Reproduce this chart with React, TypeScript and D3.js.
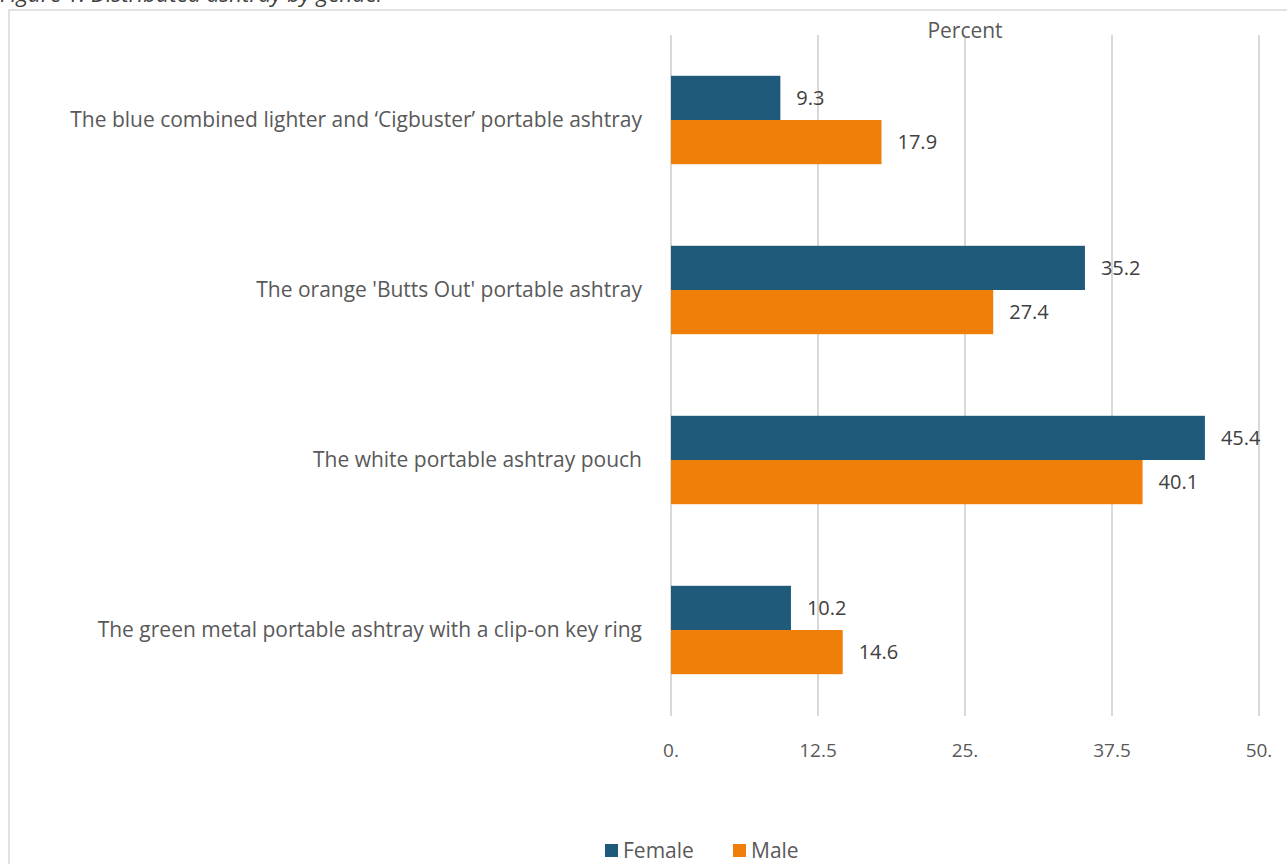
import React from "react";
import * as d3 from "d3";

const categories = [
  "The blue combined lighter and \u2018Cigbuster\u2019 portable ashtray",
  "The orange 'Butts Out' portable ashtray",
  "The white portable ashtray pouch",
  "The green metal portable ashtray with a clip-on key ring",
];
const femaleValues = [9.3, 35.2, 45.4, 10.2];
const maleValues = [17.9, 27.4, 40.1, 14.6];
const tickValues = [0, 12.5, 25, 37.5, 50];
const tickLabels = ["0.", "12.5", "25.", "37.5", "50."];
const seriesNames = ["Female", "Male"];
const seriesColors = ["#1f5a7b", "#f07f09"];

const W = 1287;
const H = 864;
const FONT = "'Open Sans', 'Noto Sans', sans-serif";

export default function App() {
  const x = d3.scaleLinear().domain([0, 50]).range([671, 1259]);
  const y = d3.scaleBand<string>().domain(categories).range([35, 715]).paddingInner(0.48).paddingOuter(0.24);
  const inner = d3.scaleBand<string>().domain(seriesNames).range([0, y.bandwidth()]).padding(0);
  const series = [femaleValues, maleValues];

  return (
    <svg width={W} height={H} style={{ position: "absolute", left: 0, top: 0, background: "#fff" }} fontFamily={FONT}>
      <text x={0} y={2} fontSize={22.5} fontStyle="italic" fill="#404040">
        Figure 1: Distributed ashtray by gender
      </text>
      <rect x={9} y={10} width={1290} height={870} fill="none" stroke="#d9d9d9" strokeWidth={1.5} />
      {tickValues.map((t) => (
        <line key={"g" + t} x1={x(t)} x2={x(t)} y1={35} y2={716} stroke="#d9d9d9" strokeWidth={2} />
      ))}
      <text x={x(25)} y={38} textAnchor="middle" fontSize={21} fill="#595959">Percent</text>
      {categories.map((c, i) => (
        <g key={c}>
          {series.map((vals, s) => {
            const yy = (y(c) as number) + (inner(seriesNames[s]) as number);
            const h = inner.bandwidth();
            return (
              <g key={s}>
                <rect x={x(0)} y={yy} width={x(vals[i]) - x(0)} height={h} fill={seriesColors[s]} />
                <text x={x(vals[i]) + 16} y={yy + h / 2 + 7} fontSize={20} fill="#404040">
                  {vals[i].toFixed(1)}
                </text>
              </g>
            );
          })}
          <text x={642} y={(y(c) as number) + y.bandwidth() / 2 + 7} textAnchor="end" fontSize={21} fill="#595959">
            {c}
          </text>
        </g>
      ))}
      {tickValues.map((t, i) => (
        <text key={"t" + t} x={x(t)} y={757} textAnchor="middle" fontSize={19} fill="#595959">
          {tickLabels[i]}
        </text>
      ))}
      {seriesNames.map((n, i) => {
        const lx = [605, 733][i];
        return (
          <g key={n}>
            <rect x={lx} y={844} width={13} height={13} fill={seriesColors[i]} />
            <text x={lx + 18} y={858} fontSize={21} fill="#595959">{n}</text>
          </g>
        );
      })}
    </svg>
  );
}
